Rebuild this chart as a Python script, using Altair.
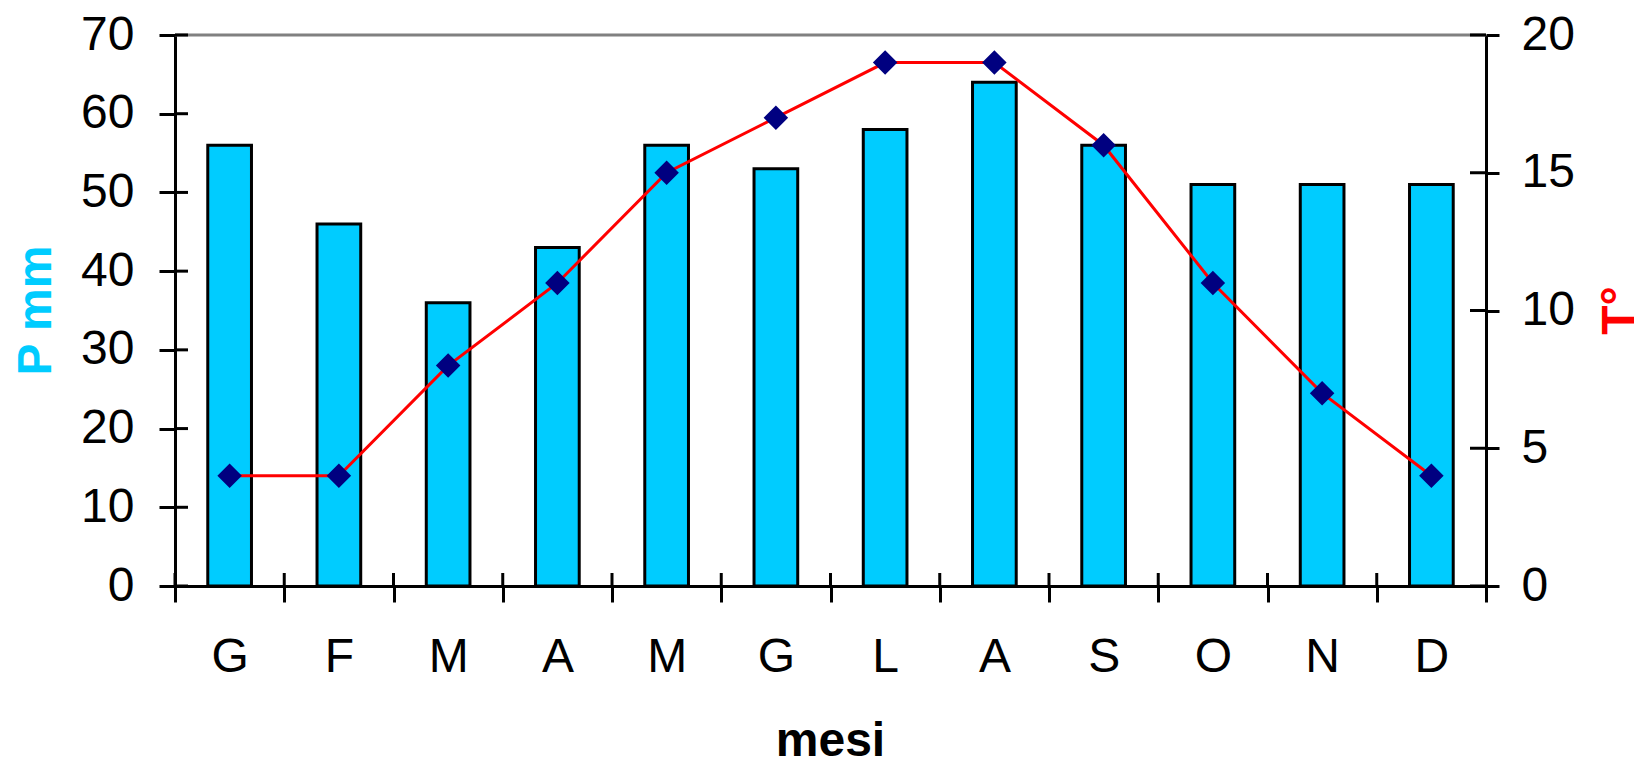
import altair as alt
import pandas as pd

# Monthly climate data: precipitation (mm) and mean temperature (°C)
mesi = ["Gennaio", "Febbraio", "Marzo", "Aprile", "Maggio", "Giugno",
        "Luglio", "Agosto", "Settembre", "Ottobre", "Novembre", "Dicembre"]
precipitazioni = [56, 46, 36, 43, 56, 53, 58, 64, 56, 51, 51, 51]
temperature = [4, 4, 8, 11, 15, 17, 19, 19, 16, 11, 7, 4]
tick_p = [0, 10, 20, 30, 40, 50, 60, 70]
tick_t = [0, 5, 10, 15, 20]

W, H = 1311, 551
FONT = "Liberation Sans"
CIANO = "#00CCFF"
ROSSO = "#FF0000"
BLU = "#000080"

df = pd.DataFrame({"mese": mesi, "p": precipitazioni, "t": temperature})
df_tp = pd.DataFrame({"p": tick_p})
df_tt = pd.DataFrame({"t": tick_t})
df_top = pd.DataFrame({"p": [max(tick_p)]})

x_scale = alt.Scale(domain=mesi, paddingInner=0, paddingOuter=0)
x_axis = alt.Axis(
    orient="bottom", tickBand="extent", tickSize=16, labelAngle=0,
    labelExpr="substring(datum.label, 0, 1)", labelPadding=31,
    title="mesi", titleFontWeight="bold", titleFontSize=48,
    titleX=655, titleY=169, titleAlign="center", titleBaseline="alphabetic",
)
x_enc = alt.X("mese:N", scale=x_scale, axis=x_axis)

axis_p = alt.Axis(
    orient="left", values=tick_p, tickSize=16, labelPadding=25,
    title="P mm", titleColor=CIANO, titleFontSize=48, titleFontWeight="bold",
    titleAngle=270, titleX=-125, titleY=275, titleAlign="center",
    titleBaseline="alphabetic",
)
y_p = alt.Y("p:Q", scale=alt.Scale(domain=[0, 70], nice=False), axis=axis_p)

axis_t = alt.Axis(
    orient="right", values=tick_t, tickSize=13, labelPadding=22,
    title="T°", titleColor=ROSSO, titleFontSize=48, titleFontWeight="bold",
    titleAngle=270, titleX=148, titleY=275, titleAlign="center",
    titleBaseline="alphabetic",
)
y_t = alt.Y("t:Q", scale=alt.Scale(domain=[0, 20], nice=False), axis=axis_t)

# precipitation side: top frame line, bars, inner tick marks
bordo = alt.Chart(df_top).mark_rule(color="#808080", strokeWidth=3).encode(
    y=y_p, x=alt.value(0), x2=alt.value(W)
)
barre = alt.Chart(df).mark_bar(
    color=CIANO, stroke="black", strokeWidth=3, width=alt.RelativeBandSize(0.4)
).encode(x=x_enc, y=y_p)
tacche_p = alt.Chart(df_tp).mark_rule(color="black", strokeWidth=3).encode(
    y=y_p, x=alt.value(0), x2=alt.value(13)
)
tacche_x = alt.Chart(df).mark_rule(color="black", strokeWidth=3).encode(
    x=alt.X("mese:N", bandPosition=0, scale=x_scale, axis=x_axis),
    y=alt.value(H - 13), y2=alt.value(H),
)
sinistra = alt.layer(bordo, barre, tacche_p, tacche_x)

# temperature side: line with diamond markers
linea = alt.Chart(df).mark_line(color=ROSSO, strokeWidth=3).encode(x=x_enc, y=y_t)
punti = alt.Chart(df).mark_point(
    shape="diamond", filled=True, color=BLU, size=600, opacity=1
).encode(x=x_enc, y=y_t)
tacche_t = alt.Chart(df_tt).mark_rule(color="black", strokeWidth=3).encode(
    y=y_t, x=alt.value(W - 16), x2=alt.value(W)
)
destra = alt.layer(tacche_t, linea, punti)

chart = (
    alt.layer(sinistra, destra)
    .resolve_scale(y="independent")
    .properties(
        width=W, height=H,
        autosize=alt.AutoSizeParams(type="none"),
        padding={"left": 175, "top": 35, "right": 148, "bottom": 172},
        background="white",
    )
    .configure_view(stroke=None)
    .configure_axis(
        labelFont=FONT, labelFontSize=48, labelColor="black",
        titleFont=FONT, domainColor="black", domainWidth=3,
        tickColor="black", tickWidth=3, grid=False,
    )
)

chart.save("out.html", embed_options={"renderer": "svg", "actions": False})
